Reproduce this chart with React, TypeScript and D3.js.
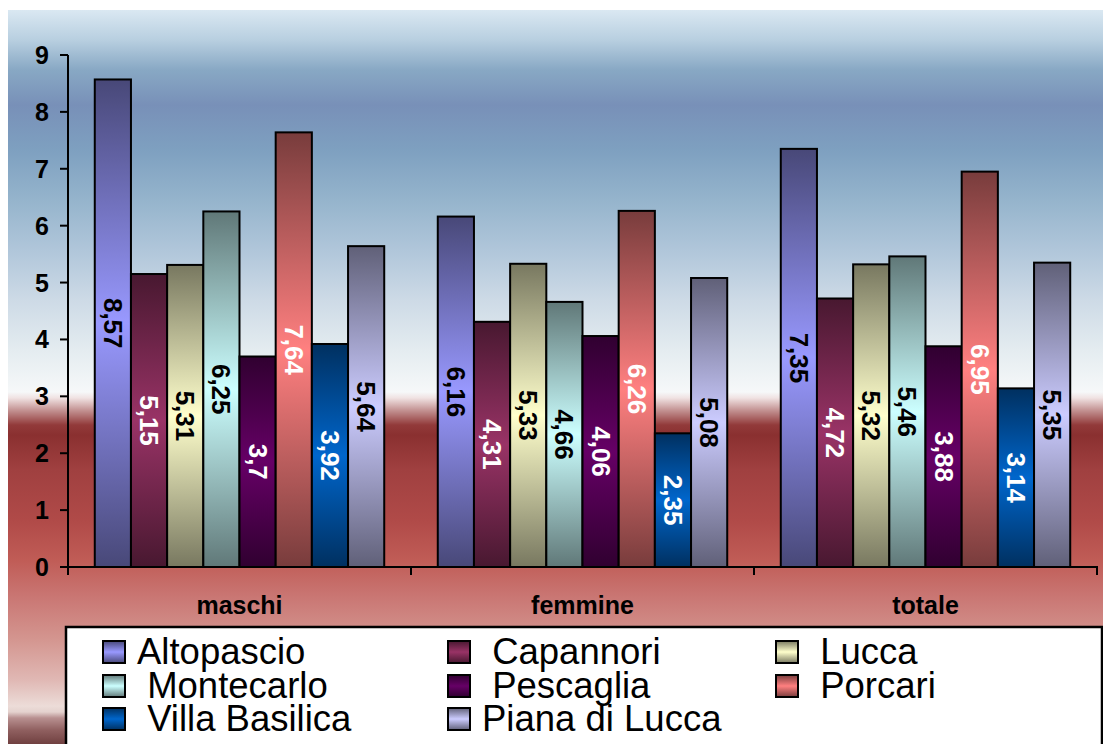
import React from "react";
import * as d3 from "d3";

const categories = ["maschi", "femmine", "totale"];
const seriesNames = ["Altopascio", "Capannori", "Lucca", "Montecarlo", "Pescaglia", "Porcari", "Villa Basilica", "Piana di Lucca"];
const legendLabels = ["Altopascio", " Capannori", " Lucca", " Montecarlo", " Pescaglia", " Porcari", " Villa Basilica", "Piana di Lucca"];
const seriesColors = ["#9999FF", "#993366", "#FFFFCC", "#CCFFFF", "#660066", "#FF8080", "#0066CC", "#CCCCFF"];
const labelColors = ["#000", "#fff", "#000", "#000", "#fff", "#fff", "#fff", "#000"];
const altopascio = [8.57, 6.16, 7.35];
const capannori = [5.15, 4.31, 4.72];
const lucca = [5.31, 5.33, 5.32];
const montecarlo = [6.25, 4.66, 5.46];
const pescaglia = [3.7, 4.06, 3.88];
const porcari = [7.64, 6.26, 6.95];
const villaBasilica = [3.92, 2.35, 3.14];
const pianaDiLucca = [5.64, 5.08, 5.35];
const seriesValues = [altopascio, capannori, lucca, montecarlo, pescaglia, porcari, villaBasilica, pianaDiLucca];
const yTicks = [0, 1, 2, 3, 4, 5, 6, 7, 8, 9];

const FONT = "'Liberation Sans', Arial, sans-serif";

export default function App() {
  const W = 1103, H = 736;
  const x0 = d3.scaleBand<string>().domain(categories).range([68, 1097]).padding(0);
  const x1 = d3.scaleBand<string>().domain(seriesNames).range([0, x0.bandwidth()]).paddingInner(0).paddingOuter(0.74);
  const y = d3.scaleLinear().domain([0, 9]).range([567, 55]);

  const bgStops: [number, string][] = [
    [10, "#dae8f2"], [40, "#b8cfe0"], [70, "#88a8c4"], [105, "#7890b8"], [150, "#7ea0c0"],
    [200, "#95b4cc"], [250, "#b0c6da"], [300, "#cddae6"], [350, "#e4ecf0"], [392, "#f6f8f9"],
    [398, "#f0e2e2"], [410, "#c49494"], [425, "#923a3a"], [435, "#8a3030"], [470, "#a04040"],
    [520, "#b04a48"], [560, "#c05c56"], [595, "#c97572"], [640, "#d49690"], [680, "#e0b8b4"],
    [706, "#ecdcd8"], [712, "#e4d2ce"], [718, "#b89090"], [730, "#906060"], [744, "#704040"],
  ];
  const dark = (c: string) => d3.interpolateRgb("#000", c)(0.47);

  return (
    <svg width={W} height={H} style={{ display: "block" }}>
      <defs>
        <linearGradient id="bg" gradientUnits="userSpaceOnUse" x1={0} y1={10} x2={0} y2={744}>
          {bgStops.map(([p, c], i) => (
            <stop key={i} offset={(p - 10) / (744 - 10)} stopColor={c} />
          ))}
        </linearGradient>
        {seriesColors.map((c, i) => (
          <linearGradient key={i} id={`g${i}`} x1={0} y1={0} x2={0} y2={1}>
            <stop offset={0} stopColor={dark(c)} />
            <stop offset={0.5} stopColor={c} />
            <stop offset={1} stopColor={dark(c)} />
          </linearGradient>
        ))}
      </defs>
      <g transform="translate(-8,-8)">
        <rect x={8} y={10} width={1103} height={734} fill="url(#bg)" />
        {/* bars */}
        {categories.map((cat, ci) => (
          <g key={cat} transform={`translate(${x0(cat)},0)`}>
            {seriesNames.map((s, si) => {
              const v = seriesValues[si][ci];
              const bx = x1(s)!;
              const bw = x1.bandwidth();
              const top = y(v);
              const cy = (top + y(0)) / 2;
              return (
                <g key={s}>
                  <rect x={bx} y={top} width={bw} height={y(0) - top} fill={`url(#g${si})`} stroke="#000" strokeWidth={2} />
                  <text
                    transform={`translate(${bx + bw / 2},${cy}) rotate(90)`}
                    textAnchor="middle"
                    dominantBaseline="central"
                    fontFamily={FONT}
                    fontWeight="bold"
                    fontSize={26}
                    fill={labelColors[si]}
                  >
                    {String(v).replace(".", ",")}
                  </text>
                </g>
              );
            })}
          </g>
        ))}
        {/* y axis */}
        <line x1={68} y1={y(9)} x2={68} y2={575} stroke="#000" strokeWidth={2} />
        {yTicks.map((t) => (
          <g key={t}>
            <line x1={60} x2={68} y1={y(t)} y2={y(t)} stroke="#000" strokeWidth={2} />
            <text x={49} y={y(t)} textAnchor="end" dominantBaseline="central" fontFamily={FONT} fontWeight="bold" fontSize={25} fill="#000">
              {t}
            </text>
          </g>
        ))}
        {/* x axis */}
        <line x1={60} x2={1098} y1={y(0)} y2={y(0)} stroke="#000" strokeWidth={2} />
        {[...categories.map((c) => x0(c)!), x0.range()[1]].map((xv, i) => (
          <line key={i} x1={xv} x2={xv} y1={y(0)} y2={575} stroke="#000" strokeWidth={2} />
        ))}
        {categories.map((c) => (
          <text key={c} x={x0(c)! + x0.bandwidth() / 2} y={614} textAnchor="middle" fontFamily={FONT} fontWeight="bold" fontSize={25} fill="#000">
            {c}
          </text>
        ))}
        {/* legend */}
        <rect x={66} y={627} width={1036} height={130} fill="#fff" stroke="#000" strokeWidth={2.5} />
        {legendLabels.map((l, i) => {
          const colX = [103, 448, 776][i % 3];
          const rowY = [652, 686, 719][Math.floor(i / 3)];
          return (
            <g key={i}>
              <rect x={colX} y={rowY - 11} width={22} height={22} fill={`url(#g${i})`} stroke="#000" strokeWidth={2} />
              <text x={colX + 34} y={rowY + 12} fontFamily={FONT} fontSize={36.5} fill="#000" style={{ whiteSpace: "pre" }}>
                {l}
              </text>
            </g>
          );
        })}
      </g>
    </svg>
  );
}
